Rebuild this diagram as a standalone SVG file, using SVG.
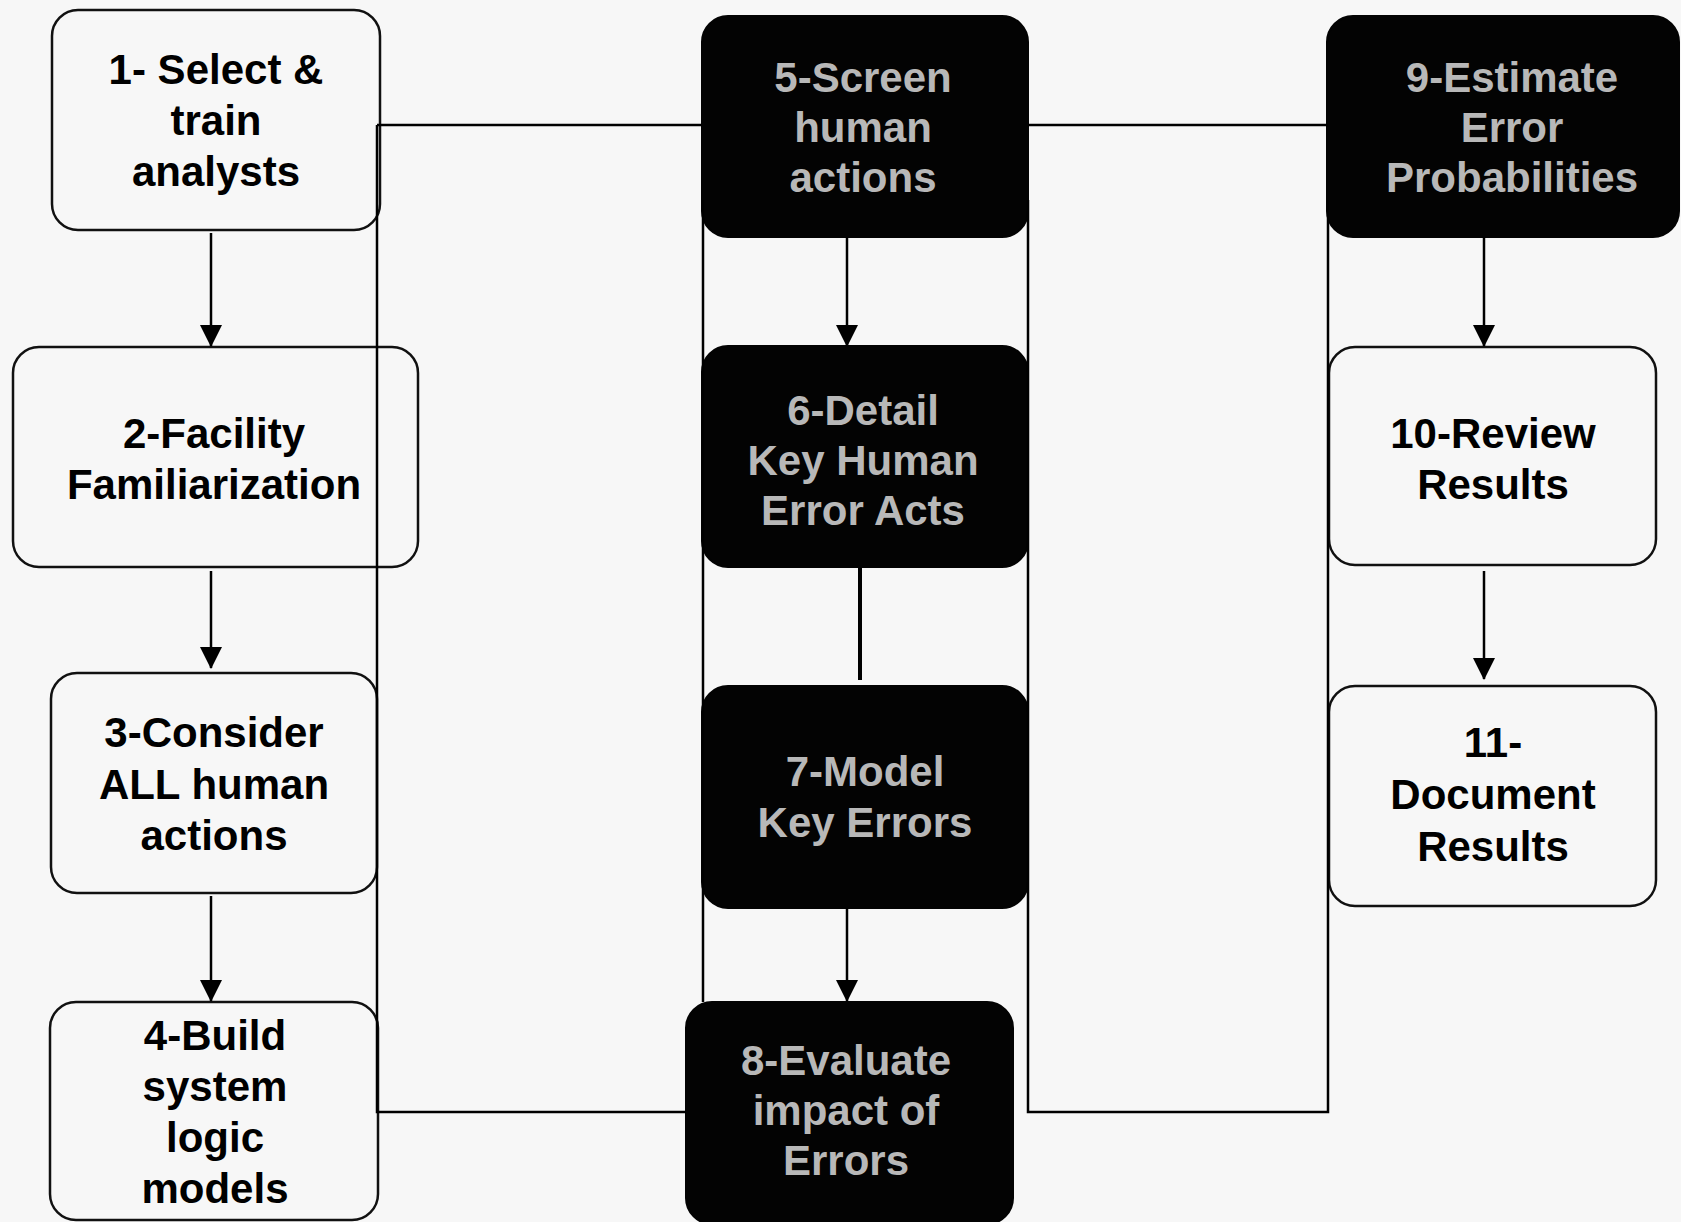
<svg xmlns="http://www.w3.org/2000/svg" width="1681" height="1222" viewBox="0 0 1681 1222">
  <style>
    .bg { fill: #f7f7f7; }
    .wbox { fill: #f7f7f7; stroke: #111; stroke-width: 2.5; }
    .dbox { fill: #030303; stroke: #030303; stroke-width: 2; }
    .t { font-family: "Liberation Sans", Arial, sans-serif; font-weight: bold; font-size: 42px; text-anchor: middle; fill: #000; }
    .td { font-family: "Liberation Sans", Arial, sans-serif; font-weight: bold; font-size: 42px; text-anchor: middle; fill: #b8b8b8; }
    .ln { fill: none; stroke: #000; stroke-width: 2.5; }
    .arr { fill: none; stroke: #000; stroke-width: 2.5; marker-end: url(#ah); }
  </style>
  <defs>
    <marker id="ah" viewBox="0 0 22 22" markerWidth="22" markerHeight="22" refX="21" refY="11" orient="auto" markerUnits="userSpaceOnUse">
      <path d="M0,0 L22,11 L0,22 Z" fill="#000"/>
    </marker>
  </defs>
  <rect class="bg" x="0" y="0" width="1681" height="1222"/>

  <g id="node1">
    <rect class="wbox" x="52" y="10" width="328" height="220" rx="26"/>
    <text class="t" x="216" y="84">1- Select &amp;</text>
    <text class="t" x="216" y="135">train</text>
    <text class="t" x="216" y="186">analysts</text>
  </g>
  <g id="node2">
    <rect class="wbox" x="13" y="347" width="405" height="220" rx="26"/>
    <text class="t" x="214" y="448">2-Facility</text>
    <text class="t" x="214" y="499">Familiarization</text>
  </g>
  <g id="node3">
    <rect class="wbox" x="51" y="673" width="326" height="220" rx="26"/>
    <text class="t" x="214" y="747">3-Consider</text>
    <text class="t" x="214" y="799">ALL human</text>
    <text class="t" x="214" y="850">actions</text>
  </g>
  <g id="node4">
    <rect class="wbox" x="50" y="1002" width="328" height="218" rx="26"/>
    <text class="t" x="215" y="1050">4-Build</text>
    <text class="t" x="215" y="1101">system</text>
    <text class="t" x="215" y="1152">logic</text>
    <text class="t" x="215" y="1203">models</text>
  </g>
  <g id="node5">
    <rect class="dbox" x="702" y="16" width="326" height="221" rx="26"/>
    <text class="td" x="863" y="92">5-Screen</text>
    <text class="td" x="863" y="142">human</text>
    <text class="td" x="863" y="192">actions</text>
  </g>
  <g id="node6">
    <rect class="dbox" x="702" y="346" width="326" height="221" rx="26"/>
    <text class="td" x="863" y="425">6-Detail</text>
    <text class="td" x="863" y="475">Key Human</text>
    <text class="td" x="863" y="525">Error Acts</text>
  </g>
  <g id="node7">
    <rect class="dbox" x="702" y="686" width="326" height="222" rx="26"/>
    <text class="td" x="865" y="786">7-Model</text>
    <text class="td" x="865" y="837">Key Errors</text>
  </g>
  <g id="node8">
    <rect class="dbox" x="686" y="1002" width="327" height="222" rx="26"/>
    <text class="td" x="846" y="1075">8-Evaluate</text>
    <text class="td" x="846" y="1125">impact of</text>
    <text class="td" x="846" y="1175">Errors</text>
  </g>
  <g id="node9">
    <rect class="dbox" x="1327" y="16" width="352" height="221" rx="26"/>
    <text class="td" x="1512" y="92">9-Estimate</text>
    <text class="td" x="1512" y="142">Error</text>
    <text class="td" x="1512" y="192">Probabilities</text>
  </g>
  <g id="node10">
    <rect class="wbox" x="1329" y="347" width="327" height="218" rx="26"/>
    <text class="t" x="1493" y="448">10-Review</text>
    <text class="t" x="1493" y="499">Results</text>
  </g>
  <g id="node11">
    <rect class="wbox" x="1329" y="686" width="327" height="220" rx="26"/>
    <text class="t" x="1493" y="757">11-</text>
    <text class="t" x="1493" y="809">Document</text>
    <text class="t" x="1493" y="861">Results</text>
  </g>

  <g id="connectors">
    <line class="arr" x1="211" y1="233" x2="211" y2="346"/>
    <line class="arr" x1="211" y1="571" x2="211" y2="668"/>
    <line class="arr" x1="211" y1="896" x2="211" y2="1001"/>
    <line class="arr" x1="847" y1="237" x2="847" y2="346"/>
    <line x1="860" y1="568" x2="860" y2="680" stroke="#000" stroke-width="4"/>
    <line class="arr" x1="847" y1="908" x2="847" y2="1001"/>
    <line class="arr" x1="1484" y1="237" x2="1484" y2="346"/>
    <line class="arr" x1="1484" y1="571" x2="1484" y2="679"/>
    <path class="ln" d="M377,125 H702 M377,125 V1112 H686"/>
    <path class="ln" d="M703,200 V1002"/>
    <path class="ln" d="M1028,125 H1328 M1028,200 V1112 H1328 V200"/>
  </g>
</svg>
